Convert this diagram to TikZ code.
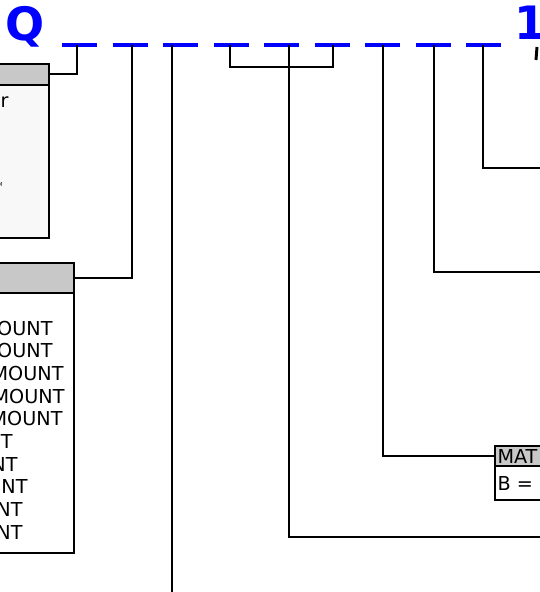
\documentclass[tikz,border=0pt]{standalone}
\usepackage{fontspec}
\setmainfont{DejaVu Sans}
\definecolor{hdrgray}{HTML}{C8C8C8}
\definecolor{bodygray}{HTML}{F8F8F8}
\newcommand{\cellfont}{\fontsize{14.4}{17}\selectfont}
\newcommand{\bigfont}{\fontsize{34.5}{38}\selectfont\bfseries}

\tikzset{every picture/.style={line width=0.75pt}}

\begin{document}
\begin{tikzpicture}[x=0.75pt,y=0.75pt,yscale=-1,xscale=1,
  hdr/.style={draw, line width=1.7pt, fill=hdrgray, inner sep=0, outer sep=0},
  cell/.style={draw, line width=1.7pt, fill=white, inner sep=0, outer sep=0},
  txt/.style={inner sep=0, font=\cellfont},
  wire/.style={line width=1.5pt},
  qdash/.style={blue, line width=3pt, dash pattern=on 26.25pt off 11.625pt}]

\useasboundingbox (0,0) rectangle (539,592);

% title letters and the dashed slots
\node [anchor=base west, inner sep=0, text=blue, font=\bigfont] (qlbl) at (4.5,41) {Q};
\node [anchor=base west, inner sep=0, text=blue, font=\bigfont] (onelbl) at (513.5,40) {1};
\coordinate (s0) at (62,45);
\coordinate (s1) at (501,45);
\draw [qdash] (s0) -- (s1);

% left tables
\node [hdr, minimum width=111.75pt, minimum height=15.75pt] (tabAh) at (-25.5,74.5) {};
\node [cell, fill=bodygray, minimum width=111.75pt, minimum height=114.75pt] (tabAb) at (-25.5,161.5) {};
\node [txt, anchor=base east] (tabAr) at (9,107) {r};
\node [inner sep=0, anchor=east, font=\fontsize{4}{5}\selectfont] (tabAm) at (3,185) {M};

\node [hdr, minimum width=130.5pt, minimum height=22.5pt] (tabBh) at (-13,278) {};
\node [cell, minimum width=130.5pt, minimum height=195pt] (tabBb) at (-13,423) {};
\foreach \t/\x [count=\i] in {OUNT/53,OUNT/53,MOUNT/64,MOUNT/65,MOUNT/63,NT/13,NT/18,UNT/28,NT/23,NT/23}
  \node [txt, anchor=base east] (rowB\i) at ({\x},{335+(\i-1)*22.7}) {\t};

% right table
\node [hdr, minimum width=93.75pt, minimum height=15pt] (tabMh) at (557.5,456) {};
\node [cell, minimum width=93.75pt, minimum height=25.5pt] (tabMb) at (557.5,483) {};
\node [txt, anchor=base west] (tabMt) at (497,463) {MAT};
\node [txt, anchor=base west] (tabMr) at (497,490) {B =};

% hanging wires
\coordinate (c1) at (77,45);
\coordinate (c2) at (132,45);
\coordinate (c3) at (172,45);
\coordinate (c4) at (230,45);
\coordinate (c5) at (289,45);
\coordinate (c6) at (333,45);
\coordinate (c7) at (383,45);
\coordinate (c8) at (434,45);
\coordinate (c9) at (483,45);
\coordinate (e3) at (172,600);
\coordinate (k6) at (333,67);
\coordinate (e5) at (545,537);
\coordinate (e8) at (545,272);
\coordinate (e9) at (545,168);
\coordinate (m0) at (537,47);
\coordinate (m1) at (536,60);

\draw [wire] (c1) |- (tabAh.east);
\draw [wire] (c2) |- (tabBh.east);
\draw [wire] (c3) -- (e3);
\draw [wire] (c4) |- (k6) -- (c6);
\draw [wire] (c5) |- (e5);
\draw [wire] (c7) |- (tabMh.west);
\draw [wire] (c8) |- (e8);
\draw [wire] (c9) |- (e9);
\draw [line width=2.2pt] (m0) -- (m1);

\end{tikzpicture}
\end{document}
